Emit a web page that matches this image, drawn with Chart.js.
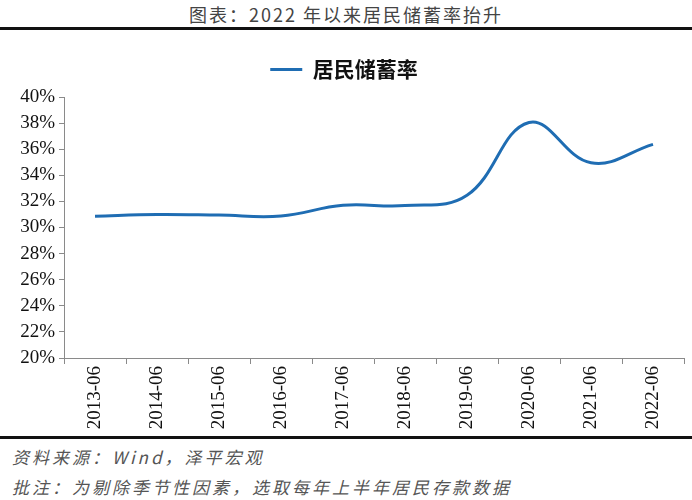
<!DOCTYPE html>
<html>
<head>
<meta charset="utf-8">
<script src="https://cdn.jsdelivr.net/npm/chart.js@4"></script>
<style>
  body { margin: 0; width: 692px; height: 500px; background: #fff; overflow: hidden; position: relative; }
  .title { position: absolute; top: 2px; left: 0; width: 692px; text-align: center; font-family: "Noto Sans CJK SC", serif; font-size: 18px; line-height: 24px; color: #444; letter-spacing: 2px; }
  .rule { position: absolute; left: 0; width: 692px; height: 3px; background: #111; }
  .wrap { position: absolute; top: 32px; left: 0; width: 692px; height: 405px; }
  .note { position: absolute; left: 12px; font-family: "Noto Sans CJK SC", serif; font-style: italic; font-size: 17px; line-height: 22px; color: #555; letter-spacing: 3px; }
</style>
</head>
<body>
<div class="title">图表：2022 年以来居民储蓄率抬升</div>
<div class="rule" style="top:27px"></div>
<div class="wrap"><canvas id="chart"></canvas></div>
<div class="rule" style="top:436px"></div>
<div class="note" style="top:446px">资料来源：Wind，泽平宏观</div>
<div class="note" style="top:476px">批注：为剔除季节性因素，选取每年上半年居民存款数据</div>
<script>
// 数据
const categories = ["2013-06", "2014-06", "2015-06", "2016-06", "2017-06", "2018-06", "2019-06", "2020-06", "2021-06", "2022-06"];
const savingRate = [30.87, 31.0, 30.95, 30.88, 31.7, 31.68, 32.47, 38.05, 34.96, 36.37];
const seriesName = "居民储蓄率";

const axisColor = "#8a8a8a";

// 图例与绘图区之间留出更大间距
const legendGap = {
  id: "legendGap",
  beforeInit(chart) {
    const fit = chart.legend.fit;
    chart.legend.fit = function () {
      fit.bind(chart.legend)();
      this.height += 7;
    };
  }
};

new Chart(document.getElementById("chart"), {
  type: "line",
  data: {
    labels: categories,
    datasets: [{
      label: seriesName,
      data: savingRate,
      borderColor: "#1f6db3",
      backgroundColor: "#1f6db3",
      borderWidth: 3,
      tension: 0.4,
      pointRadius: 0,
      pointStyle: "line",
      fill: false
    }]
  },
  options: {
    responsive: true,
    maintainAspectRatio: false,
    animation: false,
    layout: { padding: { left: 4, right: 8, top: 0, bottom: 0 } },
    plugins: {
      tooltip: { enabled: false },
      legend: {
        position: "top",
        labels: {
          usePointStyle: true,
          pointStyleWidth: 32,
          color: "#111",
          padding: 27,
          font: { family: "'Noto Sans CJK SC', serif", size: 21, weight: "bold" }
        }
      }
    },
    scales: {
      x: {
        offset: true,
        border: { color: axisColor, width: 1 },
        grid: { offset: true, drawOnChartArea: false, drawTicks: true, tickLength: 6, color: axisColor },
        afterFit: (s) => { s.height = 79; },
        ticks: {
          minRotation: 90,
          maxRotation: 90,
          color: "#111",
          padding: 2,
          font: { family: "'Liberation Serif', serif", size: 19 }
        }
      },
      y: {
        min: 20,
        max: 40,
        border: { color: axisColor, width: 1 },
        grid: { drawOnChartArea: false, drawTicks: true, tickLength: 5, color: axisColor },
        afterFit: (s) => { s.width = 60; },
        ticks: {
          stepSize: 2,
          color: "#111",
          padding: 4,
          font: { family: "'Liberation Serif', serif", size: 19 },
          callback: (v) => v + "%"
        }
      }
    }
  },
  plugins: [legendGap]
});
</script>
</body>
</html>
